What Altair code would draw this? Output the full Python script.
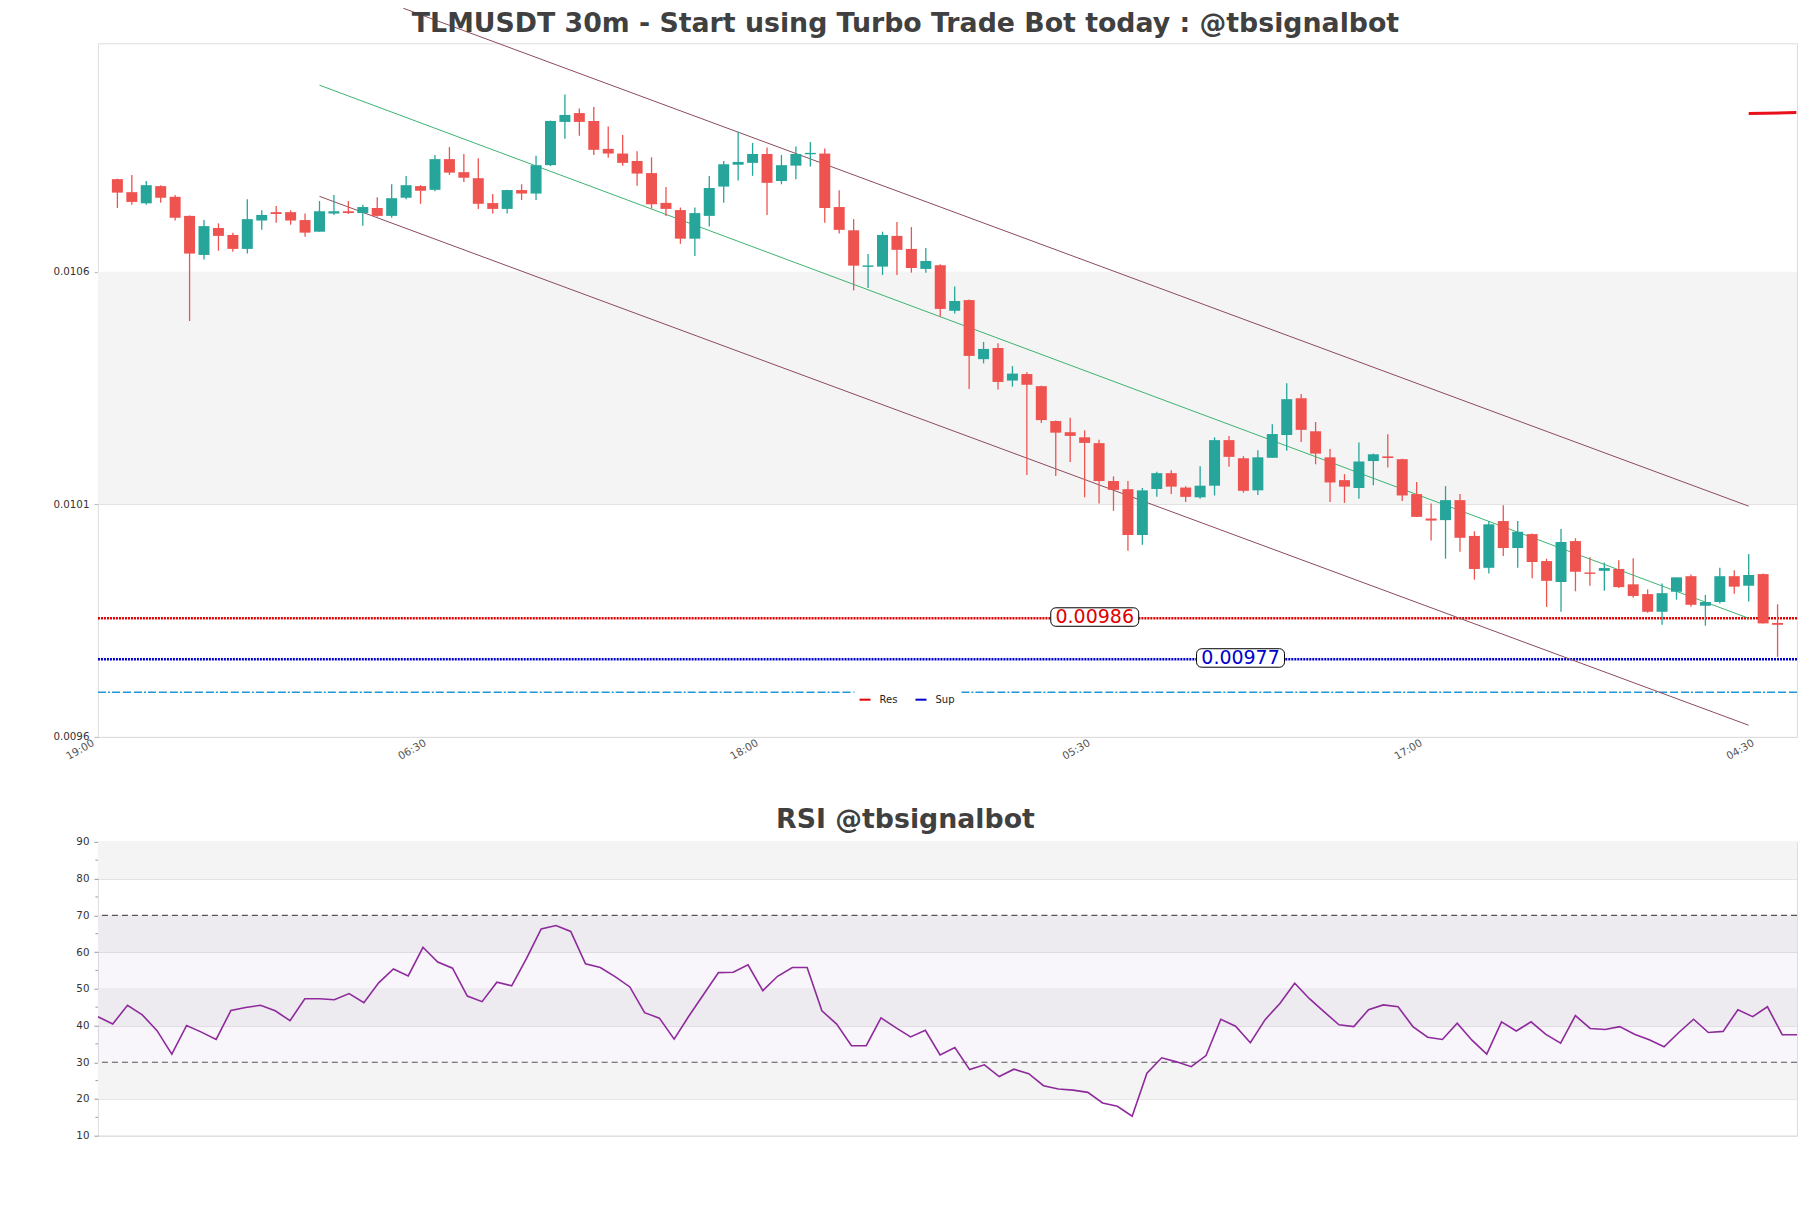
import altair as alt
import pandas as pd

title_main = "TLMUSDT 30m - Start using Turbo Trade Bot today : @tbsignalbot"
title_rsi = "RSI @tbsignalbot"

# x positions are 30-minute candle indices; index 0 = 19:30
tick_pos = [-1, 22, 45, 68, 91, 114]
tick_labels = ["19:00", "06:30", "18:00", "05:30", "17:00", "04:30"]

open_ = [
    0.010799, 0.010771, 0.010747, 0.010784, 0.010761, 0.010720, 0.010636, 0.010694, 0.010679, 0.010649,
    0.010710, 0.010728, 0.010728, 0.010711, 0.010686, 0.010725, 0.010730, 0.010726, 0.010737, 0.010720,
    0.010759, 0.010784, 0.010776, 0.010842, 0.010814, 0.010801, 0.0107475, 0.010735, 0.0107755, 0.010768,
    0.010829, 0.010922, 0.010941, 0.010924, 0.010864, 0.010854, 0.010838, 0.010812, 0.010748, 0.0107325,
    0.010671, 0.010720, 0.010783, 0.010830, 0.010834, 0.010853, 0.010795, 0.010828, 0.010853, 0.010854,
    0.010739, 0.010689, 0.010611, 0.010611, 0.010677, 0.010649, 0.010606, 0.010614, 0.010516, 0.010539,
    0.010412, 0.010436, 0.010366, 0.010380, 0.010354, 0.010279, 0.010255, 0.010244, 0.0102315, 0.010150,
    0.0101325, 0.010034, 0.010133, 0.010167, 0.010136, 0.010115, 0.010140, 0.010238, 0.010199, 0.010130,
    0.010200, 0.010249, 0.010328, 0.010257, 0.010201, 0.010152, 0.010135, 0.010193, 0.010203, 0.010197,
    0.010122, 0.0100695, 0.010066, 0.010109, 0.010032, 0.0099635, 0.010064, 0.010006, 0.010036, 0.009978,
    0.009933, 0.010021, 0.009953, 0.009957, 0.009961, 0.009928, 0.009907, 0.009869, 0.009912, 0.0099455,
    0.009882, 0.009890, 0.0099455, 0.009925, 0.009950, 0.009845,
]
high = [
    0.010800, 0.010808, 0.010795, 0.010786, 0.010765, 0.010721, 0.010711, 0.010704, 0.010684, 0.010756,
    0.010732, 0.010741, 0.010732, 0.010725, 0.010752, 0.010765, 0.010752, 0.010744, 0.010760, 0.010788,
    0.010806, 0.010786, 0.010851, 0.010868, 0.010853, 0.010844, 0.010767, 0.010776, 0.010788, 0.010849,
    0.010925, 0.010981, 0.010951, 0.010954, 0.010912, 0.010894, 0.010859, 0.010846, 0.010782, 0.010738,
    0.010738, 0.010806, 0.010838, 0.010901, 0.010877, 0.010867, 0.010851, 0.010869, 0.010879, 0.010865,
    0.010775, 0.010713, 0.010638, 0.010686, 0.010707, 0.010696, 0.010651, 0.010616, 0.010568, 0.010540,
    0.010449, 0.010446, 0.010397, 0.010384, 0.010355, 0.010280, 0.010286, 0.010259, 0.010239, 0.010160,
    0.010150, 0.010135, 0.010170, 0.010173, 0.010139, 0.010182, 0.010244, 0.010247, 0.0102035, 0.010216,
    0.010272, 0.010360, 0.010337, 0.010277, 0.010219, 0.010165, 0.010233, 0.010209, 0.0102505, 0.010198,
    0.010148, 0.010102, 0.010139, 0.010122, 0.010042, 0.010064, 0.010098, 0.010064, 0.010037, 0.009983,
    0.010047, 0.010027, 0.009986, 0.009975, 0.009980, 0.009984, 0.009917, 0.009930, 0.009943, 0.009949,
    0.009905, 0.0099635, 0.009958, 0.009993, 0.009951, 0.009885,
]
low = [
    0.010737, 0.010744, 0.010744, 0.010748, 0.010710, 0.010494, 0.010626, 0.010645, 0.010643, 0.010639,
    0.010690, 0.010705, 0.010701, 0.010675, 0.010686, 0.010722, 0.010724, 0.010699, 0.010718, 0.010716,
    0.010756, 0.010746, 0.010773, 0.010808, 0.010793, 0.010735, 0.010725, 0.010725, 0.010754, 0.010754,
    0.010827, 0.010886, 0.010892, 0.010851, 0.010845, 0.010828, 0.010785, 0.010736, 0.010720, 0.010660,
    0.010634, 0.010697, 0.010748, 0.010796, 0.010806, 0.010722, 0.010788, 0.010799, 0.010826, 0.010705,
    0.010682, 0.010560, 0.010565, 0.010593, 0.010593, 0.010598, 0.010598, 0.010503, 0.010510, 0.010348,
    0.010403, 0.010347, 0.010353, 0.010163, 0.010275, 0.010161, 0.010191, 0.010115, 0.010102, 0.010086,
    0.010000, 0.010013, 0.010116, 0.010122, 0.010105, 0.010112, 0.010119, 0.010181, 0.010125, 0.010120,
    0.010200, 0.010215, 0.010234, 0.010186, 0.010105, 0.010103, 0.010112, 0.010141, 0.010179, 0.010107,
    0.010073, 0.010022, 0.009983, 0.009998, 0.009938, 0.009951, 0.009989, 0.0099635, 0.009941, 0.0098795,
    0.009869, 0.009913, 0.009925, 0.009914, 0.009920, 0.009899, 0.009867, 0.009841, 0.009895, 0.009880,
    0.009839, 0.009887, 0.009908, 0.009891, 0.009844, 0.009772,
]
close = [
    0.010770, 0.010750, 0.010786, 0.010759, 0.010716, 0.010639, 0.010698, 0.010677, 0.010649, 0.010713,
    0.010722, 0.010724, 0.010710, 0.010684, 0.010730, 0.010730, 0.010726, 0.010739, 0.010720, 0.010758,
    0.010786, 0.010774, 0.010842, 0.010813, 0.010802, 0.010746, 0.010735, 0.0107755, 0.010768, 0.010829,
    0.010924, 0.010937, 0.010922, 0.010862, 0.010854, 0.010834, 0.010811, 0.010745, 0.010735, 0.010671,
    0.010726, 0.010780, 0.010831, 0.010836, 0.010853, 0.010791, 0.010829, 0.010853, 0.010855, 0.010737,
    0.010690, 0.010613, 0.010613, 0.010679, 0.010647, 0.010608, 0.010623, 0.010520, 0.010537, 0.010419,
    0.010434, 0.010363, 0.010381, 0.010357, 0.010281, 0.010254, 0.010247, 0.010232, 0.010150, 0.010131,
    0.010034, 0.010130, 0.010167, 0.010138, 0.010116, 0.010140, 0.010238, 0.010202, 0.010129, 0.010201,
    0.010251, 0.010326, 0.010260, 0.010209, 0.010147, 0.010138, 0.010192, 0.0102075, 0.0101995, 0.010119,
    0.010073, 0.010065, 0.010109, 0.010028, 0.009961, 0.010057, 0.010006, 0.010041, 0.009976, 0.0099355,
    0.010019, 0.009955, 0.009951, 0.009963, 0.009922, 0.009903, 0.009869, 0.009909, 0.009943, 0.009884,
    0.009890, 0.0099455, 0.009923, 0.009948, 0.009844, 0.009841,
]

rsi = [
    42.4, 40.4, 45.5, 42.9, 38.6, 32.2, 40.0, 38.2, 36.2, 44.1,
    44.9, 45.5, 44.0, 41.3, 47.3, 47.3, 47.0, 48.7, 46.2, 51.6,
    55.4, 53.5, 61.3, 57.3, 55.6, 48.0, 46.5, 51.8, 50.8, 58.2,
    66.3, 67.2, 65.6, 56.8, 55.8, 53.3, 50.5, 43.5, 42.0, 36.3,
    42.6, 48.5, 54.4, 54.5, 56.5, 49.5, 53.4, 55.8, 55.8, 44.0,
    40.4, 34.5, 34.5, 42.1, 39.4, 36.9, 38.7, 32.0, 34.0, 28.0,
    29.3, 26.1, 28.1, 26.9, 23.6, 22.7, 22.4, 21.8, 18.9, 18.0,
    15.3, 27.0, 31.2, 30.1, 28.8, 31.8, 41.7, 39.8, 35.3, 41.6,
    46.0, 51.5, 47.3, 43.7, 40.2, 39.7, 44.3, 45.6, 45.1, 39.7,
    36.8, 36.2, 40.6, 36.0, 32.2, 41.0, 38.5, 41.0, 37.6, 35.2,
    42.7, 39.2, 38.9, 39.7, 37.6, 36.1, 34.2, 38.1, 41.7, 38.1,
    38.4, 44.3, 42.4, 45.1, 37.5, 37.5,
]

# support / resistance and other levels
level_names = ["Res", "Sup"]
level_values = [0.009855, 0.009767]
level_labels = ["0.00986", "0.00977"]
level_label_x = [67.7, 77.8]
level_colors = ["#e00000", "#0000cc"]
stop_level = [0.009696]

# regression channel (candle index, price)
chan_x = [14, 113]
chan_mid = [0.011001, 0.009855]
chan_low = [0.010762, 0.009625]
chan_up_x = [19.8, 113]
chan_up = [0.0111664, 0.010096]
marker_x = [113, 116.3]
marker_y = [0.010940, 0.010942]

y_ticks = [0.0096, 0.0101, 0.0106]
y_domain = [0.0096, 0.011091]
band_main_lo = [0.0101]
band_main_hi = [0.0106]
rsi_ticks = [10, 20, 30, 40, 50, 60, 70, 80, 90]
rsi_minor = [15, 25, 35, 45, 55, 65, 75, 85]
rsi_band_lo = [20, 40, 60, 80]
rsi_band_hi = [30, 50, 70, 90]

UP = "#26a69a"
DOWN = "#ef5350"
FONT = "DejaVu Sans"
W = 1700
H_MAIN = 694
H_RSI = 294

n = len(open_)
candles = pd.DataFrame({"idx": list(range(n)), "open": open_, "high": high, "low": low, "close": close})
candles["up"] = candles["close"] >= candles["open"]
candles["bhi"] = candles[["open", "close"]].max(axis=1)
candles["blo"] = candles[["open", "close"]].min(axis=1)
thin = (candles["bhi"] - candles["blo"]) < 3e-6
mid = (candles["bhi"] + candles["blo"]) / 2
candles.loc[thin, "bhi"] = mid[thin] + 1.5e-6
candles.loc[thin, "blo"] = mid[thin] - 1.5e-6

label_expr = ""
for p, t in zip(tick_pos, tick_labels):
    label_expr += f"datum.value == {p} ? '{t}' : "
label_expr += "''"

xs = alt.Scale(domain=[-1, 116], nice=False, zero=False)
ys = alt.Scale(domain=y_domain, nice=False, zero=False)
x_axis = alt.Axis(values=tick_pos, labelExpr=label_expr, labelAngle=-30, labelAlign="right",
                  labelBaseline="middle", labelFontSize=10.5, labelFont=FONT, labelColor="#555",
                  ticks=False, domain=False, grid=False, labelPadding=5, labelOffset=-10,
                  labelOverlap=False, labelFlush=False, title=None)
y_axis = alt.Axis(values=y_ticks, format=".4f", labelFontSize=10.3, labelFont=FONT, labelColor="#333",
                  tickSize=4, tickColor="#bbb", labelPadding=5, grid=True, gridColor="#dddddd",
                  domain=False, title=None, minExtent=89, maxExtent=89, labelOverlap=False)


def X(field):
    return alt.X(field, scale=xs, axis=x_axis)


def Y(field):
    return alt.Y(field, scale=ys, axis=y_axis)


bands = alt.Chart(pd.DataFrame({"lo": band_main_lo, "hi": band_main_hi})).mark_rect(color="#f4f4f4").encode(
    x=alt.value(0), x2=alt.value(W), y=Y("lo:Q"), y2="hi:Q")

stop = alt.Chart(pd.DataFrame({"v": stop_level})).mark_rule(
    color="#2196d8", strokeWidth=1.3, strokeDash=[8, 3, 8, 3, 8, 2, 2, 2]).encode(y=Y("v:Q"))

lv = pd.DataFrame({"name": level_names, "v": level_values, "label": level_labels,
                   "lx": level_label_x})
levels = alt.Chart(lv).mark_rule(strokeWidth=2.6, strokeDash=[2, 1]).encode(
    y=Y("v:Q"),
    color=alt.Color("name:N", scale=alt.Scale(domain=level_names, range=level_colors),
                    legend=alt.Legend(orient="none", legendX=757, legendY=646, direction="horizontal",
                                      title=None, symbolType="stroke", symbolSize=121,
                                      symbolStrokeWidth=2, labelFontSize=10,
                                      labelFont=FONT, labelColor="#222", fillColor="white", padding=4,
                                      columnPadding=14, labelOffset=8)))

ch = pd.DataFrame({"idx": chan_x + chan_x, "p": chan_low + chan_mid, "name": ["low"] * 2 + ["mid"] * 2})
chu = pd.DataFrame({"idx": chan_up_x, "p": chan_up})
chan_outer = alt.Chart(pd.concat([ch[ch.name == "low"], chu.assign(name="up")])).mark_line(
    color="#8c4b5a", strokeWidth=1, clip=False).encode(x=X("idx:Q"), y=Y("p:Q"), detail="name:N")
chan_mid_l = alt.Chart(ch[ch.name == "mid"]).mark_line(color="#3cb371", strokeWidth=1).encode(
    x=X("idx:Q"), y=Y("p:Q"))

mk = alt.Chart(pd.DataFrame({"idx": marker_x, "p": marker_y})).mark_line(
    color="#e8101a", strokeWidth=3, clip=False).encode(x=X("idx:Q"), y=Y("p:Q"))

col = alt.condition("datum.up", alt.value(UP), alt.value(DOWN))
wicks = alt.Chart(candles).mark_rule(strokeWidth=1.3).encode(
    x=X("idx:Q"), y=Y("low:Q"), y2="high:Q", color=col)
bodies = alt.Chart(candles).mark_bar(size=11).encode(
    x=X("idx:Q"), y=Y("blo:Q"), y2="bhi:Q", color=col)

boxes = alt.Chart(lv).mark_rect(fill="white", stroke="black", strokeWidth=1, cornerRadius=5,
                                xOffset=-44, x2Offset=44, yOffset=-10.5, y2Offset=8).encode(
    x=X("lx:Q"), x2="lx:Q", y=Y("v:Q"), y2="v:Q")
texts = alt.Chart(lv).mark_text(fontSize=19, font=FONT, baseline="middle", dy=-1).encode(
    x=X("lx:Q"), y=Y("v:Q"), text="label:N",
    color=alt.condition("datum.name == 'Res'", alt.value(level_colors[0]), alt.value(level_colors[1])))

title_df = pd.DataFrame({"t": [title_main]})
title_mark = alt.Chart(title_df).mark_text(
    fontSize=26.8, font=FONT, fontWeight="bold", color="#404040", baseline="alphabetic",
    align="center", clip=False).encode(x=alt.value(808), y=alt.value(-11), text="t:N")

main = alt.layer(bands, stop, levels, chan_outer, chan_mid_l, wicks, bodies, mk, boxes, texts,
                 title_mark).properties(width=W, height=H_MAIN)

# RSI panel
rx = alt.Scale(domain=[0, 115], nice=False, zero=False)
ry = alt.Scale(domain=[10, 90], nice=False, zero=False)
r_axis = alt.Axis(values=rsi_ticks, format="d", labelFontSize=10.3, labelFont=FONT, labelColor="#333",
                  tickSize=4, tickColor="#999", labelPadding=5, grid=True, gridColor="#dddddd",
                  domain=False, title=None, minExtent=89, maxExtent=89, labelOverlap=False)


def RY(field):
    return alt.Y(field, scale=ry, axis=r_axis)


rb = alt.Chart(pd.DataFrame({"lo": rsi_band_lo, "hi": rsi_band_hi})).mark_rect(color="#f4f4f4").encode(
    x=alt.value(0), x2=alt.value(W), y=RY("lo:Q"), y2="hi:Q")
hatch = alt.Chart(pd.DataFrame({"lo": [30], "hi": [70]})).mark_rect(color="#a070c0", opacity=0.07).encode(
    x=alt.value(0), x2=alt.value(W), y=RY("lo:Q"), y2="hi:Q")
minor = alt.Chart(pd.DataFrame({"v": rsi_minor})).mark_rule(color="#999", clip=False).encode(
    x=alt.value(-2.5), x2=alt.value(0), y=RY("v:Q"))
rl = alt.Chart(pd.DataFrame({"v": [30, 70]})).mark_rule(color="#555", strokeDash=[6, 4], strokeWidth=1.2).encode(
    y=RY("v:Q"))
rdf = pd.DataFrame({"i": list(range(len(rsi))), "rsi": rsi})
rline = alt.Chart(rdf).mark_line(color="#8e2a9c", strokeWidth=1.6).encode(
    x=alt.X("i:Q", scale=rx, axis=None), y=RY("rsi:Q"))
rsi_chart = alt.layer(rb, hatch, minor, rl, rline).properties(
    width=W, height=H_RSI,
    title=alt.TitleParams(title_rsi, fontSize=26.8, font=FONT, fontWeight="bold", color="#404040",
                          anchor="middle", dx=-42, offset=3))

chart = alt.vconcat(main, rsi_chart, spacing=43).properties(
    padding={"left": 0, "top": -3, "right": 0, "bottom": 0}
).configure_view(stroke="#d9d9d9", strokeWidth=1).configure(background="white")

chart.save("out.html", embed_options={"renderer": "svg", "actions": False})
